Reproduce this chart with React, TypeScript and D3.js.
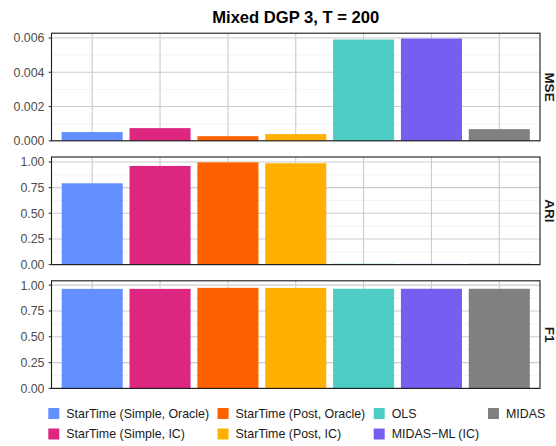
import React from "react";
import * as d3 from "d3";

const methods = [
  "StarTime (Simple, Oracle)",
  "StarTime (Simple, IC)",
  "StarTime (Post, Oracle)",
  "StarTime (Post, IC)",
  "OLS",
  "MIDAS\u2212ML (IC)",
  "MIDAS",
];
const colors = ["#648FFF", "#DC267F", "#FE6100", "#FFB000", "#4ECDC4", "#785EF0", "#808080"];
const metrics = ["MSE", "ARI", "F1"];
const mseValues = [0.00051, 0.00074, 0.00027, 0.00039, 0.00591, 0.00597, 0.00068];
const ariValues = [0.792, 0.961, 0.996, 0.987, 0.008, 0.007, 0.008];
const f1Values = [0.964, 0.964, 0.974, 0.973, 0.965, 0.965, 0.965];
const yUpper = [0.00628, 1.048, 1.042];
const mseTicks = [0, 0.002, 0.004, 0.006];
const mseMinor = [0.001, 0.003, 0.005];
const unitTicks = [0, 0.25, 0.5, 0.75, 1.0];
const unitMinor = [0.125, 0.375, 0.625, 0.875];
const title = "Mixed DGP 3, T = 200";

const W = 556;
const H = 446;
const FONT = "'Liberation Sans', Arial, Helvetica, sans-serif";

export default function App() {
  const left = 51.5;
  const right = 540;
  const panelH = 107.6;
  const panelGap = 16.2;
  const top0 = 33.2;

  // ggplot-style discrete axis: 0.6 unit expansion each side, bar width 0.9
  const xPos = d3
    .scaleLinear()
    .domain([-0.6, methods.length - 1 + 0.6])
    .range([left, right]);
  const cx = (i: number) => xPos(i);
  const barW = xPos(0.9) - xPos(0);

  const seriesVals = [mseValues, ariValues, f1Values];
  const ticks = [mseTicks, unitTicks, unitTicks];
  const minors = [mseMinor, unitMinor, unitMinor];
  const fmts = [d3.format(".3f"), d3.format(".2f"), d3.format(".2f")];

  // legend layout
  let measure = (s: string) => s.length * 6.5;
  if (typeof document !== "undefined") {
    const ctx = document.createElement("canvas").getContext("2d");
    if (ctx) {
      ctx.font = `12.4px ${FONT}`;
      measure = (s: string) => ctx.measureText(s).width;
    }
  }
  const nRows = 2;
  const nCols = Math.ceil(methods.length / nRows);
  const keySize = 11;
  const keyGap = 7;
  const colGap = 8.5;
  const colWidths: number[] = [];
  for (let c = 0; c < nCols; c++) {
    const items = methods.slice(c * nRows, c * nRows + nRows);
    colWidths.push(keySize + keyGap + d3.max(items, (s) => measure(s))!);
  }
  const legendW = d3.sum(colWidths) + colGap * (nCols - 1);
  const legendCenter = (left + right) / 2 + 1;
  const legendX0 = legendCenter - legendW / 2;
  const colX: number[] = [];
  let acc = legendX0;
  colWidths.forEach((w) => {
    colX.push(acc);
    acc += w + colGap;
  });
  const rowY = [413.5, 434];

  return (
    <svg width={W} height={H} style={{ display: "block", position: "absolute", left: 0, top: 0 }} fontFamily={FONT}>
      <rect x={0} y={0} width={W} height={H} fill="#ffffff" />
      <text x={(left + right) / 2} y={23} textAnchor="middle" fontSize={16.6} fontWeight="bold" fill="#000">
        {title}
      </text>
      {metrics.map((m, pi) => {
        const pTop = top0 + pi * (panelH + panelGap);
        const pBot = pTop + panelH;
        const y = d3.scaleLinear().domain([0, yUpper[pi]]).range([pBot, pTop]);
        const vals = seriesVals[pi];
        return (
          <g key={m}>
            {minors[pi].map((t) => (
              <line key={"mn" + t} x1={left} x2={right} y1={y(t)} y2={y(t)} stroke="#ebebeb" strokeWidth={0.6} />
            ))}
            {ticks[pi].map((t) => (
              <line key={"mj" + t} x1={left} x2={right} y1={y(t)} y2={y(t)} stroke="#cccccc" strokeWidth={1.1} />
            ))}
            {methods.map((mm, i) => (
              <line key={"vx" + i} x1={cx(i)} x2={cx(i)} y1={pTop} y2={pBot} stroke="#cccccc" strokeWidth={1.1} />
            ))}
            {vals.map((v, i) => (
              <rect
                key={"b" + i}
                x={cx(i) - barW / 2}
                width={barW}
                y={y(v)}
                height={Math.max(0, y(0) - y(v))}
                fill={colors[i]}
              />
            ))}
            <rect x={left} y={pTop} width={right - left} height={panelH} fill="none" stroke="#1a1a1a" strokeWidth={1.1} />
            {ticks[pi].map((t) => (
              <g key={"t" + t}>
                <line x1={left - 2.8} x2={left} y1={y(t)} y2={y(t)} stroke="#333333" strokeWidth={1.1} />
                <text x={44.5} y={y(t)} dy="0.36em" textAnchor="end" fontSize={12.4} fill="#4d4d4d">
                  {fmts[pi](t)}
                </text>
              </g>
            ))}
            <text
              transform={`translate(550,${(pTop + pBot) / 2}) rotate(90)`}
              textAnchor="middle"
              dy="0.36em"
              fontSize={13.5}
              fontWeight="bold"
              fill="#1a1a1a"
            >
              {m}
            </text>
          </g>
        );
      })}
      {methods.map((m, i) => {
        const c = Math.floor(i / nRows);
        const r = i % nRows;
        return (
          <g key={"lg" + i}>
            <rect x={colX[c]} y={rowY[r] - keySize / 2} width={keySize} height={keySize} fill={colors[i]} />
            <text x={colX[c] + keySize + keyGap} y={rowY[r]} dy="0.36em" fontSize={12.4} fill="#1a1a1a">
              {m}
            </text>
          </g>
        );
      })}
    </svg>
  );
}
